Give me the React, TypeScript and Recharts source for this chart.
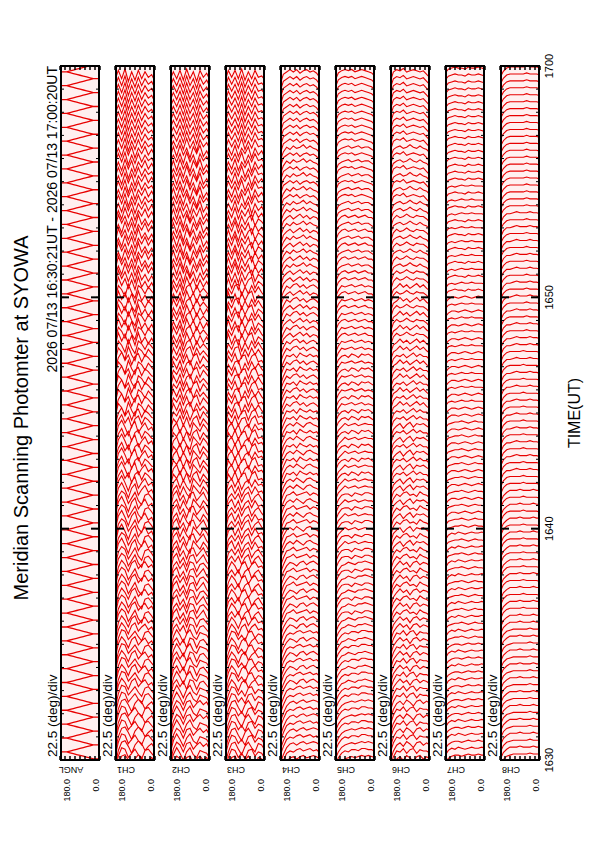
import React from 'react';
import { LineChart, Line, XAxis, YAxis, CartesianGrid } from 'recharts';

// scan angles, 180 deg (north horizon) first
const ANGLES = [180, 165, 150, 135, 120, 105, 90, 75, 60, 45, 30, 15, 0];
const ANGLE_TICKS = [0, 22.5, 45, 67.5, 90, 112.5, 135, 157.5, 180];

// seconds after 16:30:00
const MINUTE_TICKS = [
  0, 60, 120, 180, 240, 300, 360, 420, 480, 540, 600, 660, 720, 780, 840, 900,
  960, 1020, 1080, 1140, 1200, 1260, 1320, 1380, 1440, 1500, 1560, 1620, 1680, 1740, 1800,
];
const MAJOR_TICKS = [600, 1200];
const TIME_TICKS = [0, 600, 1200, 1800];
const TIME_LABELS = ['1630', '1640', '1650', '1700'];

const SCAN_START = 21;
const SCAN_STEP = 18;
const SCAN_COUNT = 100;

const CHANNELS = ['ANGL', 'CH1', 'CH2', 'CH3', 'CH4', 'CH5', 'CH6', 'CH7', 'CH8'];
// seconds of trace deflection per intensity unit
const GAIN = [2.5, 3.6, 3.6, 3.6, 3.1, 3.0, 3.1, 2.8, 2.8];

// ANGL: forward / reverse scans alternate
const ANGL = [
  [0, 0, 0, 0.9, 1.8, 2.7, 3.6, 4.5, 5.4, 6.3, 7.2, 7.2, 7.2],
  [7.2, 7.2, 7.2, 6.3, 5.4, 4.5, 3.6, 2.7, 1.8, 0.9, 0, 0, 0],
];

// intensity profiles (arb. units) by time segment, 180 -> 0 deg
const CH1 = [
  [20, 9, 3, 2, 6, 11, 5, 2, 4, 9, 6, 4, 8],
  [19, 8, 2, 3, 9, 6, 3, 7, 10, 4, 3, 6, 9],
  [18, 7, 2, 5, 10, 4, 2, 8, 5, 3, 7, 5, 10],
  [17, 6, 2, 4, 11, 7, 3, 9, 12, 5, 4, 7, 11],
  [16, 5, 1, 6, 12, 5, 2, 10, 6, 3, 8, 6, 12],
  [15, 6, 2, 8, 4, 11, 5, 3, 9, 4, 6, 9, 10],
  [14, 4, 7, 12, 3, 9, 13, 4, 6, 10, 5, 8, 11],
  [13, 3, 9, 4, 11, 5, 12, 3, 10, 6, 11, 7, 12],
  [12, 5, 11, 3, 10, 4, 12, 5, 9, 4, 10, 6, 11],
  [11, 4, 10, 3, 12, 5, 11, 4, 10, 5, 9, 7, 12],
];
const CH2 = [
  [18, 8, 3, 5, 10, 4, 3, 8, 5, 3, 6, 4, 9],
  [17, 7, 2, 6, 11, 5, 2, 7, 9, 4, 5, 6, 10],
  [17, 6, 3, 8, 4, 10, 3, 4, 10, 5, 4, 7, 10],
  [16, 5, 2, 9, 5, 11, 4, 3, 9, 6, 3, 8, 11],
  [15, 6, 3, 10, 4, 9, 12, 3, 6, 9, 4, 7, 12],
  [14, 5, 8, 3, 10, 4, 11, 5, 3, 10, 5, 8, 11],
  [13, 4, 9, 3, 11, 5, 3, 10, 4, 9, 6, 9, 12],
  [13, 5, 10, 4, 12, 3, 9, 4, 11, 5, 10, 6, 11],
  [12, 4, 11, 3, 10, 5, 12, 4, 9, 3, 11, 7, 12],
  [11, 5, 10, 4, 11, 3, 10, 5, 12, 4, 9, 6, 11],
];
const CH3 = [
  [19, 10, 4, 3, 8, 12, 6, 3, 7, 10, 4, 5, 9],
  [18, 9, 3, 4, 9, 6, 10, 4, 3, 8, 5, 6, 10],
  [18, 8, 3, 6, 11, 5, 3, 9, 5, 3, 7, 6, 10],
  [17, 7, 4, 8, 4, 10, 5, 3, 10, 6, 4, 8, 11],
  [16, 6, 3, 9, 4, 11, 6, 4, 9, 4, 8, 7, 11],
  [15, 5, 9, 3, 10, 5, 4, 11, 5, 3, 9, 8, 12],
  [14, 6, 10, 4, 3, 11, 5, 10, 4, 9, 5, 9, 12],
  [13, 4, 11, 5, 12, 4, 10, 5, 3, 11, 6, 8, 11],
  [12, 5, 10, 3, 11, 5, 9, 4, 12, 5, 10, 7, 12],
  [12, 4, 9, 4, 10, 3, 11, 5, 10, 4, 9, 8, 11],
];
const CH4 = [
  [22, 14, 8, 5, 4, 6, 4, 3, 5, 4, 3, 4, 6],
  [21, 13, 7, 5, 6, 4, 3, 5, 4, 3, 5, 4, 7],
  [21, 12, 7, 4, 5, 7, 4, 3, 6, 4, 3, 5, 7],
  [20, 12, 6, 5, 3, 6, 5, 4, 3, 6, 4, 5, 8],
  [20, 11, 6, 4, 6, 3, 5, 7, 4, 3, 5, 6, 8],
  [19, 11, 5, 6, 4, 7, 3, 5, 6, 4, 6, 5, 9],
  [18, 10, 5, 7, 4, 3, 6, 4, 7, 5, 4, 6, 9],
  [18, 9, 6, 4, 7, 5, 3, 6, 4, 7, 5, 6, 10],
  [17, 9, 5, 7, 4, 6, 5, 3, 6, 4, 6, 7, 10],
  [17, 8, 6, 4, 6, 4, 7, 5, 4, 6, 5, 7, 11],
];
const CH5 = [
  [19, 12, 8, 6, 5, 4, 5, 4, 3, 4, 3, 4, 5],
  [18, 11, 7, 5, 6, 4, 4, 5, 3, 3, 4, 4, 6],
  [18, 11, 7, 6, 4, 5, 6, 4, 4, 3, 4, 5, 6],
  [17, 10, 6, 5, 5, 7, 4, 5, 6, 4, 4, 5, 7],
  [17, 10, 7, 4, 6, 5, 4, 6, 5, 4, 5, 5, 7],
  [16, 9, 6, 5, 7, 4, 5, 7, 4, 5, 4, 6, 8],
  [16, 9, 5, 6, 5, 4, 6, 5, 4, 6, 5, 6, 8],
  [15, 8, 5, 4, 6, 5, 4, 6, 5, 4, 6, 6, 9],
  [15, 8, 6, 5, 4, 6, 5, 4, 6, 5, 5, 7, 9],
  [14, 7, 5, 4, 5, 4, 6, 5, 4, 5, 6, 7, 10],
];
const CH6 = [
  [20, 11, 6, 4, 7, 3, 5, 8, 4, 3, 6, 4, 6],
  [19, 10, 5, 6, 3, 7, 4, 3, 7, 4, 5, 5, 7],
  [19, 10, 6, 3, 6, 4, 8, 4, 3, 6, 4, 5, 7],
  [18, 9, 5, 7, 4, 3, 6, 5, 7, 3, 5, 6, 8],
  [18, 9, 6, 4, 8, 5, 3, 7, 4, 5, 4, 6, 8],
  [17, 8, 5, 6, 4, 7, 5, 3, 6, 4, 6, 6, 9],
  [16, 8, 6, 3, 6, 4, 7, 5, 3, 6, 4, 7, 9],
  [16, 7, 4, 6, 5, 3, 5, 6, 4, 5, 5, 7, 10],
  [15, 7, 5, 4, 6, 5, 3, 5, 6, 4, 6, 7, 10],
  [15, 6, 4, 5, 3, 6, 5, 4, 5, 6, 5, 8, 11],
];
const CH7 = [
  [10, 6, 4, 3, 3, 4, 3, 2, 3, 3, 2, 3, 3],
  [10, 5, 3, 4, 2, 3, 4, 3, 2, 3, 3, 2, 3],
  [9, 5, 4, 3, 3, 2, 3, 4, 3, 2, 3, 3, 4],
  [9, 5, 3, 3, 4, 3, 2, 3, 4, 3, 2, 3, 4],
  [8, 4, 3, 4, 3, 2, 3, 3, 2, 3, 3, 3, 4],
  [8, 4, 3, 2, 3, 3, 4, 2, 3, 3, 2, 3, 4],
];
const CH8 = [
  [14, 7, 4, 3, 2, 2, 2, 2, 2, 1, 2, 2, 2],
  [14, 7, 4, 2, 2, 2, 1, 2, 2, 2, 1, 2, 2],
  [13, 6, 3, 2, 2, 2, 2, 1, 2, 2, 2, 2, 3],
  [13, 6, 3, 3, 2, 1, 2, 2, 2, 1, 2, 2, 3],
  [12, 6, 3, 2, 2, 2, 2, 2, 1, 2, 2, 2, 3],
];

const PROFILES = [ANGL, CH1, CH2, CH3, CH4, CH5, CH6, CH7, CH8];

const W = 842;
const H = 595;
const PLOT_LEFT = 82;
const PLOT_RIGHT = 66;
const STRIP_TOP = 60;
const STRIP_PITCH = 55;
const STRIP_H = 40;
const PAD = 4;
const AXIS_H = 46;
const FONT = '"Liberation Sans", Arial, Helvetica, sans-serif';
const TRACE = '#e80000';
const PANEL_BG = '#fff0f0';

type Pt = { x: number | null; y: number | null };

function buildRows(profiles: number[][], gain: number, alternate: boolean): Pt[] {
  const rows: Pt[] = [];
  const n = profiles.length;
  for (let i = 0; i < SCAN_COUNT; i++) {
    const t = SCAN_START + i * SCAN_STEP;
    let prof: number[];
    if (alternate) {
      prof = profiles[i % n];
    } else {
      // odd scans take the following segment's profile, so neighbouring traces cross
      const seg = Math.floor((i * n) / SCAN_COUNT);
      prof = profiles[i % 2 === 0 ? seg : Math.min(n - 1, seg + 1)];
    }
    prof.forEach((v, j) => rows.push({ x: t - v * gain, y: ANGLES[j] }));
    rows.push({ x: null, y: null });
  }
  return rows;
}

const border = { stroke: '#000', strokeWidth: 2 };
const NoLabel = () => <g />;

function Panel({ index }: { index: number }) {
  const last = index === CHANNELS.length - 1;
  const top = STRIP_TOP + index * STRIP_PITCH;
  const rows = buildRows(PROFILES[index], GAIN[index], index === 0);
  const height = PAD + STRIP_H + (last ? AXIS_H : PAD);
  const tAxis = {
    type: 'number' as const,
    dataKey: 'x',
    domain: [0, 1800],
    allowDataOverflow: true,
    mirror: true,
    height: 1,
    interval: 0 as const,
    tick: NoLabel,
  };
  const aAxis = {
    type: 'number' as const,
    domain: [0, 180],
    allowDataOverflow: true,
    mirror: true,
    width: 1,
    ticks: ANGLE_TICKS,
    interval: 0 as const,
    tick: NoLabel,
    tickSize: 4,
    axisLine: border,
    tickLine: { stroke: '#000', strokeWidth: 1.5 },
  };
  return (
    <div style={{ position: 'absolute', left: 0, top: top - PAD }}>
      <LineChart
        width={W}
        height={height}
        data={rows}
        margin={{ top: PAD, right: PLOT_RIGHT, bottom: last ? 0 : PAD, left: PLOT_LEFT }}
      >
        <CartesianGrid xAxisId="t" yAxisId="a" fill={PANEL_BG} horizontal={false} vertical={false} />
        <Line
          xAxisId="t"
          yAxisId="a"
          dataKey="y"
          type="linear"
          stroke={TRACE}
          strokeWidth={index === 0 ? 1.3 : 1.1}
          dot={false}
          activeDot={false}
          connectNulls={false}
          isAnimationActive={false}
        />
        <XAxis {...tAxis} xAxisId="t" orientation="bottom" ticks={MINUTE_TICKS} tickSize={3}
          axisLine={border} tickLine={{ stroke: '#000', strokeWidth: 1 }} />
        <XAxis {...tAxis} xAxisId="tt" orientation="top" ticks={MINUTE_TICKS} tickSize={3}
          axisLine={border} tickLine={{ stroke: '#000', strokeWidth: 1 }} />
        <XAxis {...tAxis} xAxisId="mb" orientation="bottom" ticks={MAJOR_TICKS} tickSize={9}
          axisLine={false} tickLine={{ stroke: '#000', strokeWidth: 2 }} />
        <XAxis {...tAxis} xAxisId="mt" orientation="top" ticks={MAJOR_TICKS} tickSize={9}
          axisLine={false} tickLine={{ stroke: '#000', strokeWidth: 2 }} />
        <YAxis {...aAxis} yAxisId="a" orientation="left" />
        <YAxis {...aAxis} yAxisId="ar" orientation="right" />
        {last && (
          <XAxis
            xAxisId="lab"
            type="number"
            dataKey="x"
            domain={[0, 1800]}
            allowDataOverflow
            orientation="bottom"
            height={AXIS_H}
            ticks={TIME_TICKS}
            interval={0}
            tickSize={5}
            tickMargin={0}
            axisLine={false}
            tickLine={false}
            tickFormatter={(v: number) => TIME_LABELS[TIME_TICKS.indexOf(v)]}
            tick={{ fill: '#000', fontSize: 11, fontFamily: FONT }}
            label={{ value: 'TIME(UT)', position: 'insideBottom', offset: 6, fill: '#000', fontSize: 16, fontFamily: FONT }}
          />
        )}
      </LineChart>
    </div>
  );
}

function Labels() {
  return (
    <svg width={W} height={H} style={{ position: 'absolute', left: 0, top: 0, pointerEvents: 'none' }}
      fontFamily={FONT} fill="#000">
      <text x={424} y={28} fontSize={20} textAnchor="middle">Meridian Scanning Photomter at SYOWA</text>
      <text x={W - PLOT_RIGHT} y={57} fontSize={14} textAnchor="end">
        2026 07/13 16:30:21UT - 2026 07/13 17:00:20UT
      </text>
      {CHANNELS.map((name, k) => {
        const top = STRIP_TOP + k * STRIP_PITCH;
        return (
          <g key={name}>
            <text x={PLOT_LEFT + 3} y={top - 3} fontSize={13.5}>22.5 (deg)/div</text>
            <text x={63} y={top + 10} fontSize={9} textAnchor="end">180.0</text>
            <text x={63} y={top + 39} fontSize={9} textAnchor="end">0.0</text>
            <text transform={`translate(75, ${top + 11}) rotate(-90)`} fontSize={9} textAnchor="middle">{name}</text>
          </g>
        );
      })}
    </svg>
  );
}

export default function App() {
  return (
    <div style={{ position: 'fixed', left: 0, top: 0, width: 595, height: 842, background: '#fff', overflow: 'hidden' }}>
      <div
        style={{
          position: 'absolute',
          left: 0,
          top: 0,
          width: W,
          height: H,
          transformOrigin: '0 0',
          transform: `translate(0px, ${W}px) rotate(-90deg)`,
        }}
      >
        {CHANNELS.map((name, k) => (
          <Panel key={name} index={k} />
        ))}
        <Labels />
      </div>
    </div>
  );
}
